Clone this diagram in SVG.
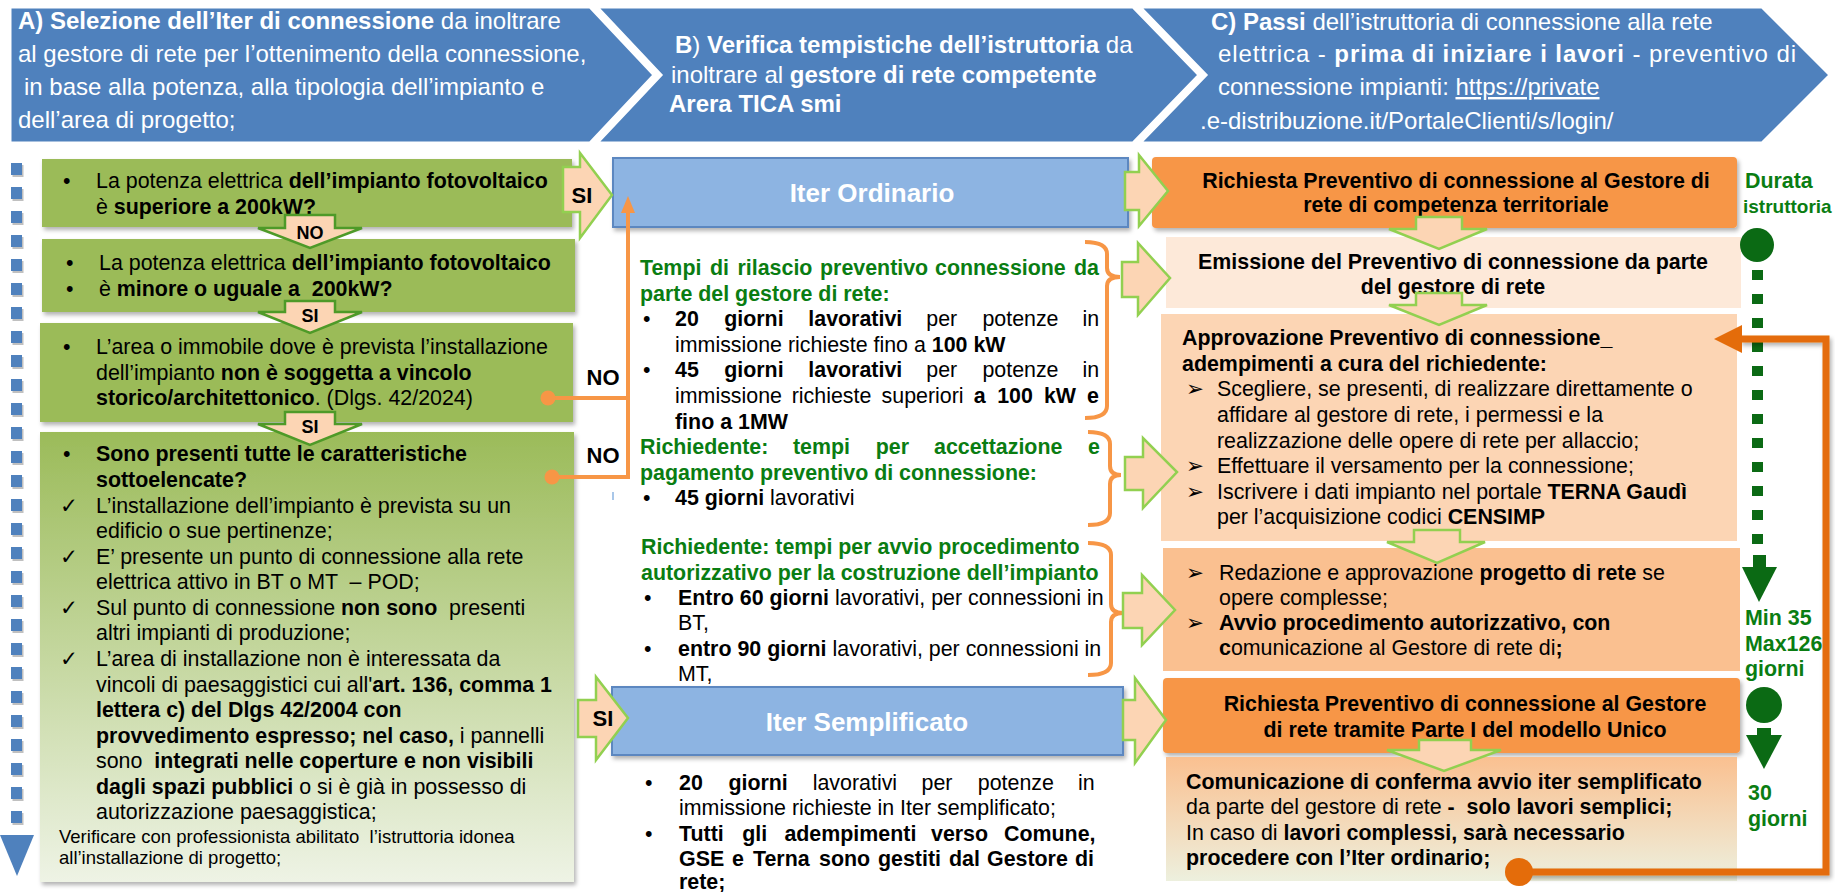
<svg xmlns="http://www.w3.org/2000/svg" width="1835" height="892" viewBox="0 0 1835 892">
<defs>
<style>
text{font-family:"Liberation Sans",Arial,sans-serif;}
.h{font-size:24px;fill:#fff;}
.b{font-weight:bold;}
.t{font-size:21.4px;fill:#000;}
.g{fill:#0A7D12;}
.sm{font-size:18.5px;fill:#000;}
.hdr{fill:#4F81BD;stroke:#fff;stroke-width:3;}
.gbox{fill:#9BBB59;}
.pa{fill:#FCD5B4;stroke:#92D050;stroke-width:2.5;}
.pas{fill:#FCD5B4;stroke:#4E9A28;stroke-width:2.5;}
.brace{fill:none;stroke:#F79646;stroke-width:4;}
.oc{fill:none;stroke:#F79646;stroke-width:4;}
.lbl{font-size:22px;font-weight:bold;fill:#000;text-anchor:middle;}
.sl{font-size:18px;font-weight:bold;fill:#000;text-anchor:middle;}
.iter{fill:#8DB4E2;stroke:#5B87C0;stroke-width:2;}
.itxt{font-size:26px;font-weight:bold;fill:#fff;text-anchor:middle;}
.sym{font-family:"DejaVu Sans",sans-serif;}
.mid{text-anchor:middle;}
.tl{fill:#0B6A14;}
</style>
<filter id="sh" x="-5%" y="-10%" width="115%" height="130%"><feDropShadow dx="2" dy="3" stdDeviation="2" flood-color="#000" flood-opacity="0.3"/></filter>
<linearGradient id="g4" x1="0" y1="0" x2="0" y2="1"><stop offset="0" stop-color="#9BBB59"/><stop offset="1" stop-color="#EEF3E5"/></linearGradient>
<linearGradient id="g6" x1="0" y1="0" x2="0" y2="1"><stop offset="0" stop-color="#FAC090"/><stop offset="1" stop-color="#EDF0DE"/></linearGradient>
</defs>
<rect width="1835" height="892" fill="#fff"/>

<g id="header-a">
<polygon class="hdr" points="10,7 590,7 654,75 590,143 10,143"/>
<text class="h" x="18" y="29"><tspan class="b">A) Selezione dell’Iter di connessione</tspan> da inoltrare</text>
<text class="h" x="18" y="62">al gestore di rete per l’ottenimento della connessione,</text>
<text class="h" x="24" y="95">in base alla potenza, alla tipologia dell’impianto e</text>
<text class="h" x="18" y="128">dell’area di progetto;</text>
</g>
<g id="header-b">
<polygon class="hdr" points="597,7 1133,7 1199,75 1133,143 597,143 661,75"/>
<text class="h" x="675" y="53"><tspan class="b">B</tspan>) <tspan class="b">Verifica tempistiche dell’istruttoria</tspan> da</text>
<text class="h" x="671" y="83">inoltrare al <tspan class="b">gestore di rete competente</tspan></text>
<text class="h b" x="669" y="112">Arera TICA smi</text>
</g>
<g id="header-c">
<polygon class="hdr" points="1140,7 1762,7 1830,75 1762,143 1140,143 1206,75"/>
<text class="h" x="1211" y="30"><tspan class="b">C) Passi</tspan> dell’istruttoria di connessione alla rete</text>
<text class="h" x="1218" y="62" textLength="578" lengthAdjust="spacing">elettrica - <tspan class="b">prima di iniziare i lavori</tspan> - preventivo di</text>
<text class="h" x="1218" y="95">connessione impianti: <tspan text-decoration="underline">https://private</tspan></text>
<text class="h" x="1200" y="129">.e-distribuzione.it/PortaleClienti/s/login/</text>
</g>

<g id="left-timeline">
<line x1="18" y1="165" x2="18" y2="825" stroke="#A6A6A6" stroke-width="11" stroke-dasharray="12 12" opacity="0.7"/>
<line x1="16.5" y1="163" x2="16.5" y2="823" stroke="#4F81BD" stroke-width="11" stroke-dasharray="12 12"/>
<polygon points="0,835 34,835 17,876" fill="#4F81BD"/>
</g>

<g id="q1">
<rect class="gbox" x="42" y="159" width="530" height="68" filter="url(#sh)"/>
<text class="t" x="63" y="188">•</text>
<text class="t" x="96" y="188">La potenza elettrica <tspan class="b">dell’impianto fotovoltaico</tspan></text>
<text class="t" x="96" y="214">è <tspan class="b">superiore a 200kW?</tspan></text>
</g>
<g id="q2">
<rect class="gbox" x="42" y="239" width="533" height="73" filter="url(#sh)"/>
<text class="t" x="66" y="270">•</text>
<text class="t" x="66" y="296">•</text>
<text class="t" x="99" y="270">La potenza elettrica <tspan class="b">dell’impianto fotovoltaico</tspan></text>
<text class="t" x="99" y="296" xml:space="preserve">è <tspan class="b">minore o uguale a  200kW?</tspan></text>
</g>
<g id="q3">
<rect class="gbox" x="40" y="323" width="533" height="99" filter="url(#sh)"/>
<text class="t" x="63" y="354">•</text>
<text class="t" x="96" y="354">L’area o immobile dove è prevista l’installazione</text>
<text class="t" x="96" y="380">dell’impianto <tspan class="b">non è soggetta a vincolo</tspan></text>
<text class="t" x="96" y="405"><tspan class="b">storico/architettonico</tspan>. (Dlgs. 42/2024)</text>
</g>
<g id="q4">
<rect x="40" y="432" width="534" height="450" fill="url(#g4)" filter="url(#sh)"/>
<text class="t" x="63" y="461">•</text>
<text class="t b" x="96" y="461">Sono presenti tutte le caratteristiche</text>
<text class="t b" x="96" y="487">sottoelencate?</text>
<text class="t sym" x="60" y="513" font-size="18">✓</text>
<text class="t" x="96" y="513">L’installazione dell’impianto è prevista su un</text>
<text class="t" x="96" y="538">edificio o sue pertinenze;</text>
<text class="t sym" x="60" y="564" font-size="18">✓</text>
<text class="t" x="96" y="564">E’ presente un punto di connessione alla rete</text>
<text class="t" x="96" y="589" xml:space="preserve">elettrica attivo in BT o MT  – POD;</text>
<text class="t sym" x="60" y="615" font-size="18">✓</text>
<text class="t" x="96" y="615" xml:space="preserve">Sul punto di connessione <tspan class="b">non sono</tspan>  presenti</text>
<text class="t" x="96" y="640">altri impianti di produzione;</text>
<text class="t sym" x="60" y="666" font-size="18">✓</text>
<text class="t" x="96" y="666">L’area di installazione non è interessata da</text>
<text class="t" x="96" y="692">vincoli di paesaggistici cui all'<tspan class="b">art. 136, comma 1</tspan></text>
<text class="t b" x="96" y="717">lettera c) del Dlgs 42/2004 con</text>
<text class="t" x="96" y="743"><tspan class="b">provvedimento espresso; nel caso,</tspan> i pannelli</text>
<text class="t" x="96" y="768" xml:space="preserve">sono  <tspan class="b">integrati nelle coperture e non visibili</tspan></text>
<text class="t" x="96" y="794"><tspan class="b">dagli spazi pubblici</tspan> o si è già in possesso di</text>
<text class="t" x="96" y="819">autorizzazione paesaggistica;</text>
<text class="sm" x="59" y="843" xml:space="preserve">Verificare con professionista abilitato  l’istruttoria idonea</text>
<text class="sm" x="59" y="864">all’installazione di progetto;</text>
</g>

<g id="iter-ordinario">
<rect class="iter" x="613" y="158" width="515" height="69" filter="url(#sh)"/>
<text class="itxt" x="872" y="202">Iter Ordinario</text>
</g>
<g id="tempi-ordinario">
<text class="t b g" y="275"><tspan x="640">Tempi</tspan><tspan x="710">di</tspan><tspan x="737.5">rilascio</tspan><tspan x="820">preventivo</tspan><tspan x="935">connessione</tspan><tspan x="1074">da</tspan></text>
<text class="t b g" x="640" y="300.6">parte del gestore di rete:</text>
<text class="t" x="643" y="326">•</text>
<text class="t" y="326"><tspan class="b" x="675">20</tspan><tspan class="b" x="724.2">giorni</tspan><tspan class="b" x="808.3">lavorativi</tspan><tspan x="926.3">per</tspan><tspan x="982.4">potenze</tspan><tspan x="1082.5">in</tspan></text>
<text class="t" x="675" y="352">immissione richieste fino a <tspan class="b">100 kW</tspan></text>
<text class="t" x="643" y="377">•</text>
<text class="t" y="377"><tspan class="b" x="675">45</tspan><tspan class="b" x="724.2">giorni</tspan><tspan class="b" x="808.3">lavorativi</tspan><tspan x="926.3">per</tspan><tspan x="982.4">potenze</tspan><tspan x="1082.5">in</tspan></text>
<text class="t" y="403"><tspan x="675">immissione</tspan><tspan x="791.7">richieste</tspan><tspan x="881.6">superiori</tspan><tspan class="b" x="973.8">a</tspan><tspan class="b" x="997.2">100</tspan><tspan class="b" x="1043.9">kW</tspan><tspan class="b" x="1087">e</tspan></text>
<text class="t b" x="675" y="428.6">fino a 1MW</text>
<text class="t b g" y="454"><tspan x="640">Richiedente:</tspan><tspan x="792.9">tempi</tspan><tspan x="875.8">per</tspan><tspan x="934">accettazione</tspan><tspan x="1088">e</tspan></text>
<text class="t b g" x="640" y="480">pagamento preventivo di connessione:</text>
<line x1="613" y1="492" x2="613" y2="500" stroke="#8DB4E2" stroke-width="1.5"/>
<text class="t" x="643" y="505">•</text>
<text class="t" x="675" y="505"><tspan class="b">45 giorni</tspan> lavorativi</text>
</g>
<g id="tempi-autorizzazione">
<text class="t b g" x="641" y="554">Richiedente: tempi per avvio procedimento</text>
<text class="t b g" x="641" y="580">autorizzativo per la costruzione dell’impianto</text>
<text class="t" x="644" y="605">•</text>
<text class="t" x="678" y="605"><tspan class="b">Entro 60 giorni</tspan> lavorativi, per connessioni in</text>
<text class="t" x="678" y="630">BT,</text>
<text class="t" x="644" y="656">•</text>
<text class="t" x="678" y="656"><tspan class="b">entro 90 giorni</tspan> lavorativi, per connessioni in</text>
<text class="t" x="678" y="681">MT,</text>
</g>
<g id="iter-semplificato">
<rect class="iter" x="612" y="687" width="511" height="68" filter="url(#sh)"/>
<text class="itxt" x="867" y="731">Iter Semplificato</text>
</g>
<g id="tempi-semplificato">
<text class="t" x="645" y="790">•</text>
<text class="t" y="790"><tspan class="b" x="679">20</tspan><tspan class="b" x="728.4">giorni</tspan><tspan x="812.7">lavorativi</tspan><tspan x="921.5">per</tspan><tspan x="977.8">potenze</tspan><tspan x="1078">in</tspan></text>
<text class="t" x="679" y="815">immissione richieste in Iter semplificato;</text>
<text class="t" x="645" y="841">•</text>
<text class="t b" y="841"><tspan x="679">Tutti</tspan><tspan x="742.2">gli</tspan><tspan x="784.4">adempimenti</tspan><tspan x="931">verso</tspan><tspan x="1004">Comune,</tspan></text>
<text class="t b" y="866"><tspan x="679">GSE</tspan><tspan x="732">e</tspan><tspan x="753">Terna</tspan><tspan x="819">sono</tspan><tspan x="878">gestiti</tspan><tspan x="949">dal</tspan><tspan x="987">Gestore</tspan><tspan x="1075">di</tspan></text>
<text class="t b" x="679" y="889">rete;</text>
</g>

<g id="step1">
<rect x="1152" y="157" width="585" height="71" rx="4" fill="#F79646" filter="url(#sh)"/>
<text class="t b mid" x="1456" y="188">Richiesta Preventivo di connessione al Gestore di</text>
<text class="t b mid" x="1456" y="212">rete di competenza territoriale</text>
</g>
<g id="step2">
<rect x="1166" y="237" width="575" height="71" fill="#FDE9D9"/>
<text class="t b mid" x="1453" y="269">Emissione del Preventivo di connessione da parte</text>
<text class="t b mid" x="1453" y="294">del gestore di rete</text>
</g>
<g id="step3">
<rect x="1161" y="314" width="576" height="227" fill="#FCD5B4"/>
<text class="t b" x="1182" y="345">Approvazione Preventivo di connessione_</text>
<text class="t b" x="1182" y="371">adempimenti a cura del richiedente:</text>
<text class="t sym" x="1186" y="396" font-size="17">➢</text>
<text class="t" x="1217" y="396">Scegliere, se presenti, di realizzare direttamente o</text>
<text class="t" x="1217" y="422">affidare al gestore di rete, i permessi e la</text>
<text class="t" x="1217" y="448">realizzazione delle opere di rete per allaccio;</text>
<text class="t sym" x="1186" y="473" font-size="17">➢</text>
<text class="t" x="1217" y="473">Effettuare il versamento per la connessione;</text>
<text class="t sym" x="1186" y="499" font-size="17">➢</text>
<text class="t" x="1217" y="499">Iscrivere i dati impianto nel portale <tspan class="b">TERNA Gaudì</tspan></text>
<text class="t" x="1217" y="524">per l’acquisizione codici <tspan class="b">CENSIMP</tspan></text>
</g>
<g id="step4">
<rect x="1163" y="548" width="577" height="123" fill="#FAC090"/>
<text class="t sym" x="1186" y="580" font-size="17">➢</text>
<text class="t" x="1219" y="580">Redazione e approvazione <tspan class="b">progetto di rete</tspan> se</text>
<text class="t" x="1219" y="605">opere complesse;</text>
<text class="t sym" x="1186" y="630" font-size="17">➢</text>
<text class="t b" x="1219" y="630">Avvio procedimento autorizzativo, con</text>
<text class="t" x="1219" y="655"><tspan class="b">c</tspan>omunicazione al Gestore di rete di<tspan class="b">;</tspan></text>
</g>
<g id="step5">
<rect x="1163" y="678" width="577" height="75" rx="4" fill="#F79646" filter="url(#sh)"/>
<text class="t b mid" x="1465" y="711">Richiesta Preventivo di connessione al Gestore</text>
<text class="t b mid" x="1465" y="737">di rete tramite Parte I del modello Unico</text>
</g>
<g id="step6">
<rect x="1166" y="757" width="571" height="124" fill="url(#g6)"/>
<text class="t b" x="1186" y="789">Comunicazione di conferma avvio iter semplificato</text>
<text class="t" x="1186" y="814" xml:space="preserve">da parte del gestore di rete <tspan class="b">-  solo lavori semplici;</tspan></text>
<text class="t" x="1186" y="840">In caso di <tspan class="b">lavori complessi, sarà necessario</tspan></text>
<text class="t b" x="1186" y="865">procedere con l’Iter ordinario;</text>
</g>

<g id="durata">
<text class="t b g" x="1745" y="188">Durata</text>
<text class="b g" x="1743" y="213" font-size="19">istruttoria</text>
<circle class="tl" cx="1757" cy="245" r="17"/>
<line x1="1757.5" y1="270" x2="1757.5" y2="545" stroke="#0B6A14" stroke-width="11" stroke-dasharray="10 14"/>
<rect class="tl" x="1753" y="555" width="13" height="13"/>
<polygon class="tl" points="1742,567 1777,567 1759,602"/>
<text class="t b g" x="1745" y="625">Min 35</text>
<text class="t b g" x="1745" y="651">Max126</text>
<text class="t b g" x="1745" y="676">giorni</text>
<circle class="tl" cx="1764" cy="705" r="18"/>
<rect class="tl" x="1757" y="728" width="14" height="8"/>
<polygon class="tl" points="1746,735 1782,735 1764,769"/>
<text class="t b g" x="1748" y="800">30</text>
<text class="t b g" x="1748" y="826">giorni</text>
</g>

<g id="connectors">
<polygon class="pas" points="285,215 335,215 335,228 362,228 310,248 258,228 285,228"/>
<text class="sl" x="310" y="239">NO</text>
<polygon class="pas" points="285,301 335,301 335,312 362,312 310,333 258,312 285,312"/>
<text class="sl" x="310" y="322">SI</text>
<polygon class="pas" points="285,412 335,412 335,424 362,424 310,445 258,424 285,424"/>
<text class="sl" x="310" y="433">SI</text>
<polygon class="pa" points="563,167 580,167 580,153 612,195 580,238 580,212 563,212"/>
<text class="lbl" x="582" y="203">SI</text>
<polygon class="pa" points="578,700 596,700 596,677 628,718 596,760 596,737 578,737"/>
<text class="lbl" x="603" y="726">SI</text>
<polyline class="oc" points="548,398 628,398"/>
<polyline class="oc" points="552,477 628,477 628,212"/>
<polygon points="621,213 635,213 628,196" fill="#F79646"/>
<circle cx="548" cy="398" r="7.5" fill="#F79646"/>
<circle cx="552" cy="477" r="7.5" fill="#F79646"/>
<text class="lbl" x="603" y="385">NO</text>
<text class="lbl" x="603" y="463">NO</text>
<path class="brace" d="M1085,242 Q1107,242 1107,254 L1107,268 Q1107,277 1120,277 Q1107,277 1107,286 L1107,406 Q1107,418 1085,418"/>
<path class="brace" d="M1088,432 Q1110,432 1110,444 L1110,466 Q1110,475 1121,475 Q1110,475 1110,484 L1110,513 Q1110,525 1088,525"/>
<path class="brace" d="M1088,543 Q1111,543 1111,555 L1111,604 Q1111,613 1123,613 Q1111,613 1111,622 L1111,663 Q1111,675 1088,675"/>
<polygon class="pa" points="1125,172 1139,172 1139,155 1168,191 1139,226 1139,210 1125,210"/>
<polygon class="pa" points="1122,262 1138,262 1138,243 1170,278 1138,315 1138,297 1122,297"/>
<polygon class="pa" points="1125,457 1143,457 1143,438 1177,472 1143,508 1143,490 1125,490"/>
<polygon class="pa" points="1123,593 1142,593 1142,575 1175,610 1142,645 1142,628 1123,628"/>
<polygon class="pa" points="1123,700 1135,700 1135,678 1166,720 1135,763 1135,740 1123,740"/>
<polygon class="pa" points="1416,217 1462,217 1462,229 1487,229 1439,249 1389,229 1416,229"/>
<polygon class="pa" points="1416,293 1462,293 1462,305 1487,305 1439,325 1389,305 1416,305"/>
<polygon class="pa" points="1414,530 1460,530 1460,542 1485,542 1437,563 1387,542 1414,542"/>
<polygon class="pa" points="1419,740 1471,740 1471,750 1501,750 1444,771 1387,750 1419,750"/>
<polyline points="1519,872 1826,872 1826,339 1740,339" fill="none" stroke="#E46C0A" stroke-width="7" filter="url(#sh)"/>
<polygon points="1742,325 1714,339 1742,353" fill="#E46C0A"/>
<circle cx="1519" cy="872" r="14" fill="#E46C0A"/>
</g>
</svg>
